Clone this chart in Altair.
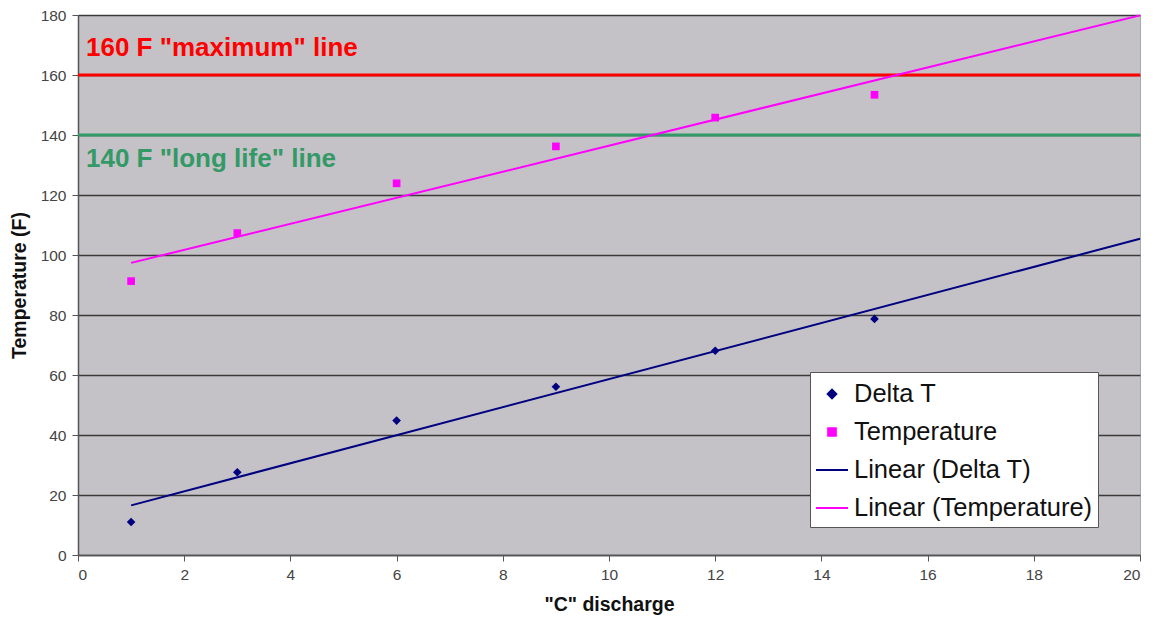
import altair as alt
import pandas as pd

# ---- data ----
c_rate = [1, 3, 6, 9, 12, 15]
delta_t = [11.0, 27.6, 44.8, 56.1, 68.1, 78.7]
temperature = [91.3, 107.3, 123.9, 136.2, 145.8, 153.4]

series_names = ["Delta T", "Temperature", "Linear (Delta T)", "Linear (Temperature)"]
series_colors = ["#000080", "#FF00FF", "#000080", "#FF00FF"]
series_shapes = [
    "M0,-0.27L0.27,0L0,0.27L-0.27,0Z",
    "M-0.24,-0.24H0.24V0.24H-0.24Z",
    "M-1,0H1",
    "M-1,0H1",
]

limit_values = [160, 140]
limit_colors = ["#FF0000", "#339966"]
limit_labels = ['160 F "maximum" line', '140 F "long life" line']
label_x = [0.15, 0.15]
label_y = [166.5, 129.5]

x_ticks = list(range(0, 21, 2))
y_ticks = list(range(0, 181, 20))

# ---- tables ----
pts = pd.DataFrame(
    {
        "x": c_rate * 2,
        "y": delta_t + temperature,
        "series": ["Delta T"] * len(c_rate) + ["Temperature"] * len(c_rate),
    }
)

FONT = "Liberation Sans"

xscale = alt.Scale(domain=[0, 20], nice=False, zero=False)
yscale = alt.Scale(domain=[0, 180], nice=False)
cscale = alt.Scale(domain=series_names, range=series_colors)
kscale = alt.Scale(domain=series_names, range=series_colors)
sscale = alt.Scale(domain=series_names, range=series_shapes)

xaxis = alt.Axis(
    values=x_ticks, title='"C" discharge', grid=False, titleFont=FONT, titleFontSize=19.5,
    titleFontWeight="bold", titleColor="#111111", labelFont=FONT, labelFontSize=15.5,
    labelColor="#444444", domainColor="#555555", tickColor="#555555", tickSize=6,
    labelPadding=6, titlePadding=13, domainWidth=1.5,
)
yaxis = alt.Axis(
    values=y_ticks, title="Temperature (F)", grid=True, gridColor="#3a3a3a", gridWidth=1.5,
    titleFont=FONT, titleFontSize=19.5, titleFontWeight="bold", titleColor="#111111",
    labelFont=FONT, labelFontSize=15.5, labelColor="#444444", domainColor="#555555",
    tickColor="#555555", tickSize=6, labelPadding=6, titlePadding=11, domainWidth=1.5,
)

legend = alt.Legend(
    title=None,
    orient="none",
    legendX=732,
    legendY=357,
    fillColor="white",
    padding=5,
    labelFont=FONT,
    labelFontSize=25.5,
    labelColor="#111111",
    symbolSize=1024,
    symbolOpacity=1,
    symbolStrokeWidth=2,
    labelOffset=5,
    rowPadding=7,
    labelLimit=400,
)

base = alt.Chart(pts)

gridaxis = alt.Chart(pts).mark_point(opacity=0).encode(
    x=alt.X("x:Q", scale=xscale, axis=xaxis),
    y=alt.Y("y:Q", scale=yscale, axis=yaxis),
)

limit_layers = []
for v, col, txt, lx, ly in zip(limit_values, limit_colors, limit_labels, label_x, label_y):
    d = pd.DataFrame({"v": [v], "t": [txt], "lx": [lx], "ly": [ly]})
    limit_layers.append(
        alt.Chart(d).mark_rule(strokeWidth=3, color=col).encode(y=alt.Y("v:Q", scale=yscale))
    )
    limit_layers.append(
        alt.Chart(d).mark_text(
            align="left", baseline="alphabetic", font=FONT, fontSize=26,
            fontWeight="bold", color=col,
        ).encode(
            x=alt.X("lx:Q", scale=xscale),
            y=alt.Y("ly:Q", scale=yscale),
            text="t:N",
        )
    )

trend = base.transform_regression(
    "x", "y", groupby=["series"], extent=[1, 20]
).transform_calculate(
    series='"Linear (" + datum.series + ")"'
).mark_line(strokeWidth=2).encode(
    x=alt.X("x:Q", scale=xscale),
    y=alt.Y("y:Q", scale=yscale),
    stroke=alt.Stroke("series:N", scale=kscale, legend=legend),
    detail="series:N",
)

points = base.mark_point(filled=True, size=1024, opacity=1, strokeWidth=0).encode(
    x=alt.X("x:Q", scale=xscale),
    y=alt.Y("y:Q", scale=yscale),
    color=alt.Color("series:N", scale=cscale, legend=legend),
    stroke=alt.Stroke("series:N", scale=kscale, legend=legend),
    shape=alt.Shape("series:N", scale=sscale, legend=legend),
)

chart = (
    alt.layer(gridaxis, *limit_layers, points, trend)
    .properties(
        width=1062,
        height=540,
        autosize=alt.AutoSizeParams(type="none"),
        padding={"left": 70, "top": 7, "right": 7, "bottom": 60},
        background="white",
    )
    .configure_view(fill="#C4C2C6", stroke="#A8A8A8", strokeWidth=1)
    .configure_legend(strokeColor="#555555", strokeWidth=1)
)

chart.save("out.html", embed_options={"renderer": "svg", "actions": False})
